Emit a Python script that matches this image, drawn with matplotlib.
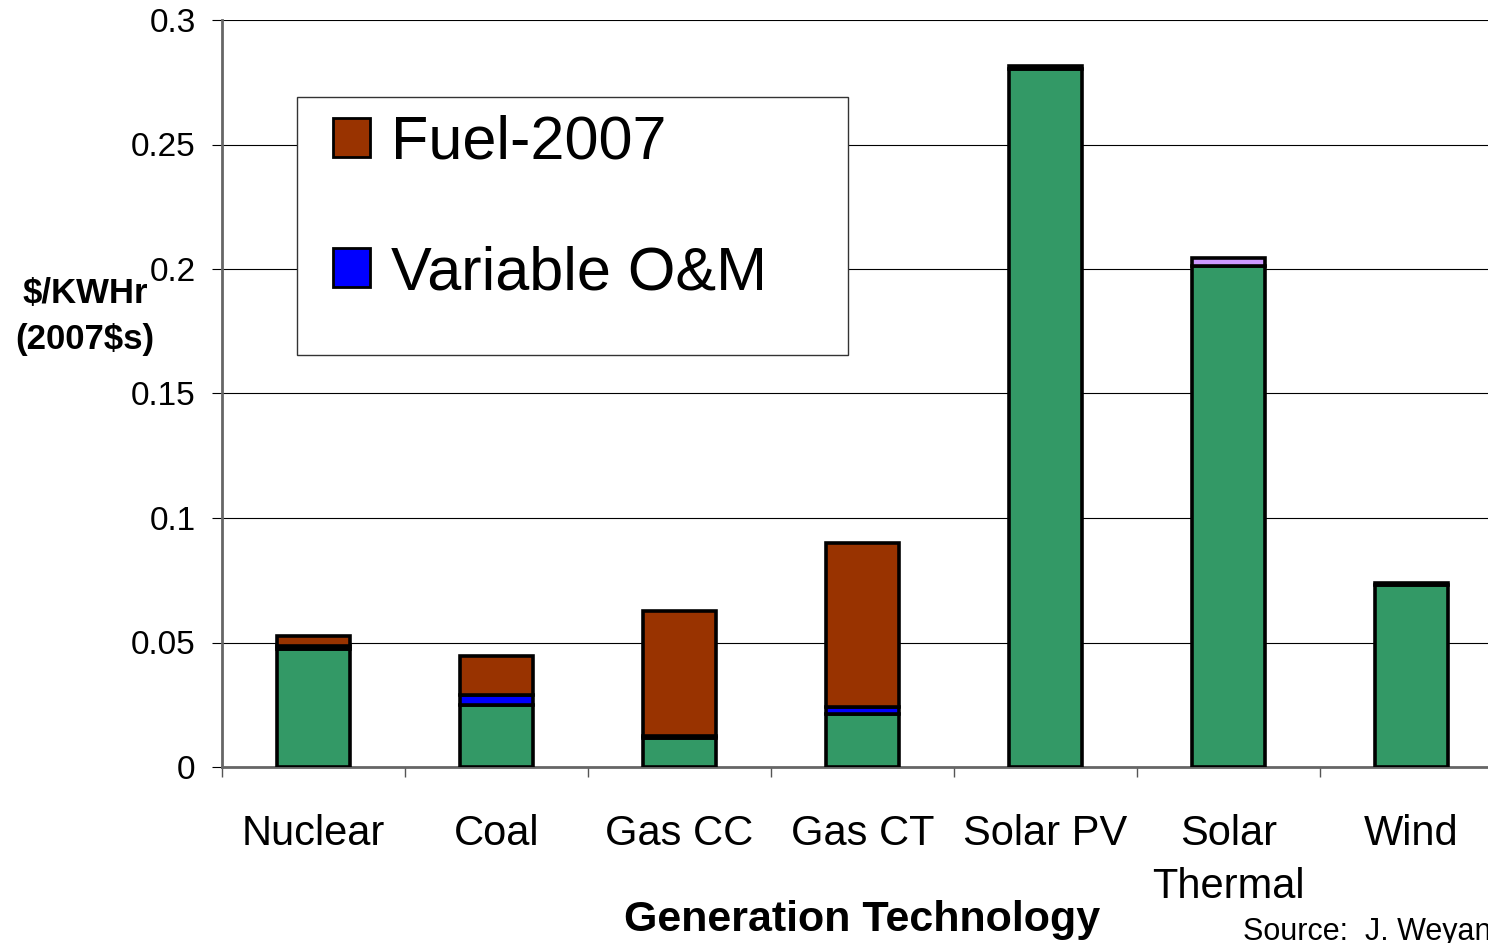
import matplotlib
matplotlib.use('Agg')
import matplotlib.pyplot as plt
from matplotlib.patches import Patch, Rectangle
import numpy as np

plt.rcParams['font.family'] = ['Liberation Sans', 'DejaVu Sans']

# data ($/kWh, 2007$)
categories = ['Nuclear', 'Coal', 'Gas CC', 'Gas CT', 'Solar PV', 'Solar\nThermal', 'Wind']
capital = [0.0474, 0.0249, 0.0116, 0.0213, 0.2805, 0.2012, 0.0730]
var_om = [0.0010, 0.0040, 0.0010, 0.0028, 0.0010, 0.0000, 0.0010]
other = [0.0000, 0.0000, 0.0000, 0.0000, 0.0000, 0.0032, 0.0000]
fuel = [0.0042, 0.0157, 0.0500, 0.0659, 0.0000, 0.0000, 0.0000]

GREEN = '#339966'
BLUE = '#0000FF'
LILAC = '#CC99FF'
BROWN = '#993300'

fig = plt.figure(figsize=(14.88, 9.43), dpi=100)
# axes runs past the right edge like the original slide crop
ax = fig.add_axes([222 / 1488, 1 - 767 / 943, (1503 - 222) / 1488, (767 - 20) / 943])

x = np.arange(len(categories))
w = 0.4
ew = 2.6
bottom = np.zeros(len(categories))
for vals, col in [(capital, GREEN), (var_om, BLUE), (other, LILAC), (fuel, BROWN)]:
    v = np.array(vals)
    mask = v > 0
    ax.bar(x[mask], v[mask], w, bottom=bottom[mask], color=col,
           edgecolor='black', linewidth=ew, zorder=3)
    bottom += v

ax.set_xlim(-0.5, len(categories) - 0.5)
ax.set_ylim(0, 0.3)
ax.set_yticks(np.arange(0, 0.301, 0.05))
ax.set_yticklabels(['0', '0.05', '0.1', '0.15', '0.2', '0.25', '0.3'], fontsize=24)
ax.yaxis.grid(True, color='black', linewidth=0.8, zorder=0)
ax.set_axisbelow(True)
ax.tick_params(axis='y', length=7, width=0.8, pad=12, colors='black')

# category boundaries as major ticks, names as minor ticks
ax.set_xticks(np.arange(-0.5, len(categories) + 0.5, 1.0))
ax.set_xticklabels([])
ax.tick_params(axis='x', which='major', length=7, width=1, color='#555555')
ax.set_xticks(x, minor=True)
ax.set_xticklabels(categories, minor=True, fontsize=30, linespacing=1.4, va='top')
ax.tick_params(axis='x', which='minor', length=0, pad=34)

for s in ['top', 'right']:
    ax.spines[s].set_visible(False)
ax.spines['left'].set_color('#666666')
ax.spines['left'].set_linewidth(2)
ax.spines['bottom'].set_color('#666666')
ax.spines['bottom'].set_linewidth(2)

# legend box
box = Rectangle((297 / 1488, 1 - 355 / 943), (848 - 297) / 1488, (355 - 97) / 943,
                transform=fig.transFigure, facecolor='white', edgecolor='#333333',
                linewidth=1, zorder=4)
fig.patches.append(box)
handles = [Patch(facecolor=BROWN, edgecolor='black', linewidth=2, label='Fuel-2007'),
           Patch(facecolor=BLUE, edgecolor='black', linewidth=2, label='Variable O&M')]
leg = fig.legend(handles=handles, loc='upper left',
                 bbox_to_anchor=(284 / 1488, 1 - 66 / 943), frameon=False,
                 fontsize=44, handlelength=0.6, handleheight=0.6,
                 handletextpad=0.35, labelspacing=1.2, borderpad=0.3)
leg.set_zorder(5)

fig.text(85 / 1488, 1 - 316 / 943, '$/KWHr\n(2007$s)', fontsize=25, fontweight='bold',
         ha='center', va='center', linespacing=1.5)
fig.text(862 / 1488, 1 - 920 / 943, 'Generation Technology', fontsize=31,
         fontweight='bold', ha='center', va='center')
fig.text(1243 / 1488, 3 / 943, 'Source:  J. Weyant', fontsize=22,
         ha='left', va='baseline')

fig.savefig('out.png', dpi=100)
